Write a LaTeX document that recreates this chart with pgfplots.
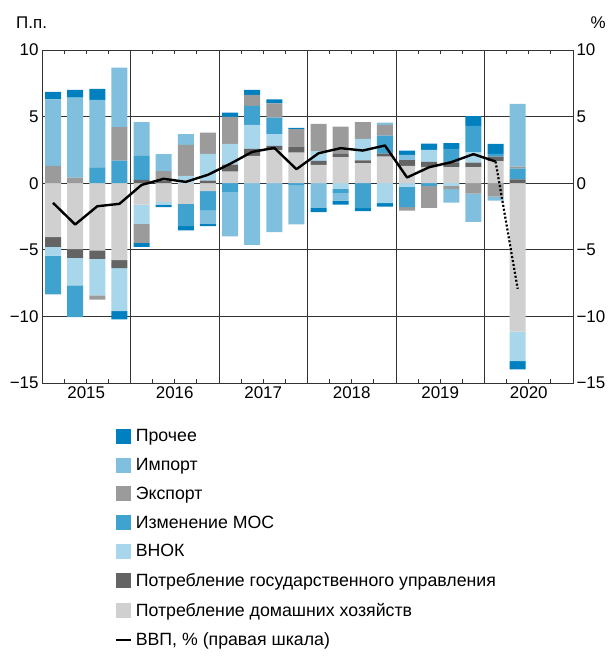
\documentclass[border=0pt]{standalone}
\usepackage{fontspec}
\setmainfont{Liberation Sans}
\usepackage{pgfplots}
\usepackage{pgfplotstable}
\pgfplotsset{compat=1.18}

\definecolor{cOth}{RGB}{0,128,190}
\definecolor{cImp}{RGB}{128,192,222}
\definecolor{cExp}{RGB}{155,155,155}
\definecolor{cInv}{RGB}{64,162,206}
\definecolor{cGfcf}{RGB}{168,214,234}
\definecolor{cGov}{RGB}{100,100,100}
\definecolor{cHh}{RGB}{208,208,208}

% signed contributions, p.p.; gdp in % (right scale)
\pgfplotstableread{
q hh gov gfcf inv exp imp oth gdp
1 -4.05 -0.73 -0.65 -2.92 1.30 5.00 0.55 -1.48
2 -4.95 -0.65 -2.08 -2.37 0.42 6.00 0.58 -3.10
3 -5.05 -0.63 -2.75 1.18 -0.32 5.07 0.83 -1.73
4 -5.78 -0.60 -3.22 1.70 2.50 4.48 -0.63 -1.55
5 -1.60 0.25 -1.45 1.80 -1.43 2.53 -0.30 -0.13
6 -1.43 0.15 -0.17 0 0.75 1.28 -0.20 0.33
7 -1.55 0 0.55 -1.68 2.33 0.80 -0.32 0.10
8 -0.60 0.20 2.00 -1.45 1.60 -1.00 -0.18 0.63
9 0.87 0.53 1.55 -0.65 2.03 -3.35 0.32 1.45
10 2.05 0.53 1.80 1.42 0.83 -4.63 0.37 2.35
11 2.50 0.30 0.88 1.25 1.07 -3.68 0.30 2.65
12 2.30 0.45 0 -0.15 1.30 -2.95 0.10 1.05
13 1.38 0.30 0.72 0 2.05 -1.85 -0.33 2.25
14 1.93 0.27 -0.43 -0.30 2.05 -0.57 -0.30 2.63
15 1.50 0.22 1.60 -1.88 1.26 0 -0.22 2.45
16 2.00 0.22 -1.50 1.36 0.80 0.17 -0.25 2.83
17 1.30 0.43 -0.25 -1.55 -0.25 0.40 0.32 0.43
18 1.22 0.38 0.90 -0.20 -1.65 0 0.47 1.20
19 1.20 0.37 -0.20 1.00 -0.25 -1.00 0.43 1.58
20 1.20 0.35 0.78 1.98 -0.78 -2.12 0.72 2.18
21 1.65 0.35 0 0.20 -1.00 -0.30 0.75 1.63
22 -11.15 0.28 -2.20 0.82 0.15 4.70 -0.63 -7.93
}\data

\newcommand\fnt{\fontsize{17}{19}\selectfont}
\pgfplotsset{
  base/.style={scale only axis, width=531bp, height=333bp, at={(42bp,274bp)},
    anchor=south west, xmin=0.5, xmax=24.5, ymin=-15, ymax=10},
  bars/.style={ybar stacked, bar width=0.72},
  sq/.style={legend image code/.code={\path[fill=#1, draw=none] (0bp,-7.5bp) rectangle (15bp,7.5bp);}},
}

\begin{document}
\begin{tikzpicture}
\path[use as bounding box] (0,0) rectangle (609bp,657bp);

% axis 1: grid, labels, negative parts
\begin{axis}[base, bars,
  ytick={-15,-10,-5,0,5,10}, yticklabels={−15,−10,−5,0,5,10},
  ymajorgrids, xmajorgrids,
  grid style={black!80, line width=0.9bp},
  xtick={4.5,8.5,12.5,16.5,20.5}, xticklabels={},
  major x tick style={draw=none},
  minor xtick={0.5,1.5,...,24.5},
  minor tick length=4bp,
  minor x tick style={black!80, line width=0.9bp},
  extra x ticks={2.5,6.5,10.5,14.5,18.5,22.5},
  extra x tick labels={2015,2016,2017,2018,2019,2020},
  extra x tick style={grid=none, major x tick style={draw=none}},
  ticklabel style={font=\fnt},
  axis line style={black!80, line width=0.9bp},
  major y tick style={draw=none},
]
\addplot[fill=cHh,   draw=none] table[x=q, y expr={min(\thisrow{hh},0)}]   {\data};
\addplot[fill=cGov,  draw=none] table[x=q, y expr={min(\thisrow{gov},0)}]  {\data};
\addplot[fill=cGfcf, draw=none] table[x=q, y expr={min(\thisrow{gfcf},0)}] {\data};
\addplot[fill=cInv,  draw=none] table[x=q, y expr={min(\thisrow{inv},0)}]  {\data};
\addplot[fill=cExp,  draw=none] table[x=q, y expr={min(\thisrow{exp},0)}]  {\data};
\addplot[fill=cImp,  draw=none] table[x=q, y expr={min(\thisrow{imp},0)}]  {\data};
\addplot[fill=cOth,  draw=none] table[x=q, y expr={min(\thisrow{oth},0)}]  {\data};
\end{axis}

% axis 2: positive parts
\begin{axis}[base, bars, hide axis]
\addplot[fill=cHh,   draw=none] table[x=q, y expr={max(\thisrow{hh},0)}]   {\data};
\addplot[fill=cGov,  draw=none] table[x=q, y expr={max(\thisrow{gov},0)}]  {\data};
\addplot[fill=cGfcf, draw=none] table[x=q, y expr={max(\thisrow{gfcf},0)}] {\data};
\addplot[fill=cInv,  draw=none] table[x=q, y expr={max(\thisrow{inv},0)}]  {\data};
\addplot[fill=cExp,  draw=none] table[x=q, y expr={max(\thisrow{exp},0)}]  {\data};
\addplot[fill=cImp,  draw=none] table[x=q, y expr={max(\thisrow{imp},0)}]  {\data};
\addplot[fill=cOth,  draw=none] table[x=q, y expr={max(\thisrow{oth},0)}]  {\data};
\end{axis}

% axis 3: GDP line, right scale, legend
\begin{axis}[base, axis x line=none, axis y line*=right,
  ytick={-15,-10,-5,0,5,10}, yticklabels={−15,−10,−5,0,5,10},
  ticklabel style={font=\fnt},
  axis line style={black!80, line width=0.9bp},
  major y tick style={draw=none},
  legend style={at={(0.136,-0.133)}, anchor=north west, draw=none, fill=none,
    font=\fontsize{17.8}{19}\selectfont, row sep=11bp, inner sep=0pt,
    nodes={inner xsep=4bp}},
  legend cell align=left,
]
\addlegendimage{sq=cOth}  \addlegendentry{Прочее}
\addlegendimage{sq=cImp}  \addlegendentry{Импорт}
\addlegendimage{sq=cExp}  \addlegendentry{Экспорт}
\addlegendimage{sq=cInv}  \addlegendentry{Изменение МОС}
\addlegendimage{sq=cGfcf} \addlegendentry{ВНОК}
\addlegendimage{sq=cGov}  \addlegendentry{Потребление государственного управления}
\addlegendimage{sq=cHh}   \addlegendentry{Потребление домашних хозяйств}
\addplot[black, line width=2.4bp, line join=round,
  restrict x to domain=1:21,
  legend image code/.code={\draw[black, line width=2.4bp] (0bp,0bp) -- (15bp,0bp);}]
  table[x=q, y=gdp] {\data};
\addlegendentry{ВВП, \% (правая шкала)}
\addplot[black, line width=2.2bp, dash pattern=on 2bp off 2bp, restrict x to domain=21:22, forget plot]
  table[x=q, y=gdp] {\data};
\end{axis}

\node[anchor=west, inner sep=0pt, font=\fnt] at (16bp,634bp) {П.п.};
\node[anchor=east, inner sep=0pt, font=\fnt] at (606bp,634bp) {\%};
\end{tikzpicture}
\end{document}
